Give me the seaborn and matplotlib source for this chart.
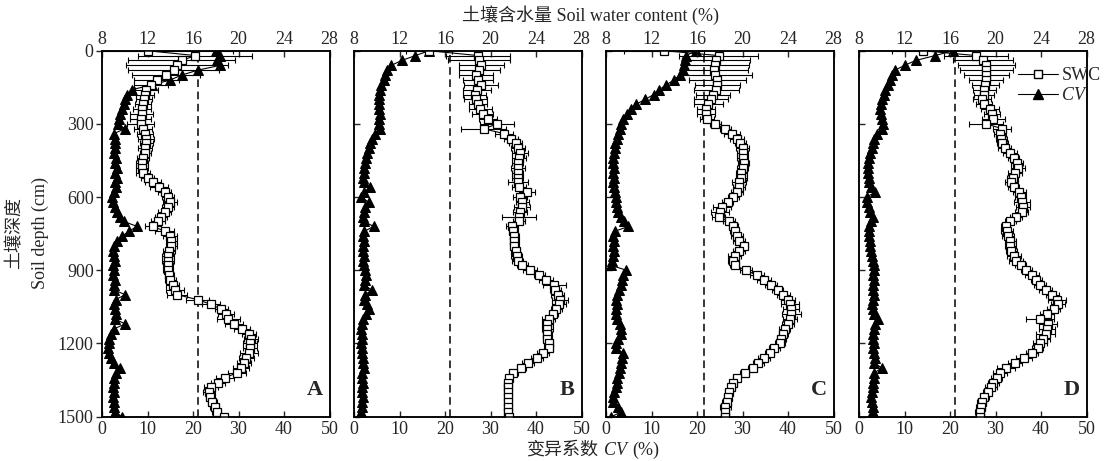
import matplotlib
matplotlib.use("Agg")
import pandas as pd
import matplotlib.pyplot as plt
import seaborn as sns
from matplotlib.lines import Line2D
from matplotlib.offsetbox import TextArea, HPacker, AnchoredOffsetbox

# depth of each sample (cm)
depth = list(range(0, 1501, 20))

# soil water content (%), top axis
swc_a = [12.0, 16.2, 15.0, 14.6, 14.3, 13.6, 12.8, 12.3, 11.9, 11.8,
         11.7, 11.6, 11.5, 11.5, 11.4, 11.4, 11.6, 11.8, 11.9, 11.9,
         11.8, 11.8, 11.6, 11.5, 11.5, 11.6, 12.0, 12.5, 13.0, 13.5,
         13.8, 14.0, 13.8, 13.5, 13.2, 12.9, 12.5, 13.5, 14.0, 14.1,
         14.1, 13.9, 13.8, 13.8, 13.8, 13.8, 13.9, 14.0, 14.2, 14.4,
         14.6, 16.4, 17.6, 18.5, 18.9, 19.1, 19.6, 20.3, 20.9, 21.1,
         21.0, 21.0, 20.9, 20.7, 20.5, 20.2, 19.9, 18.8, 18.2, 17.6,
         17.4, 17.5, 17.7, 17.9, 18.1, 18.7]
swc_b = [14.6, 18.9, 19.0, 19.2, 19.0, 18.7, 18.9, 19.2, 18.8, 18.6,
         18.7, 18.9, 19.1, 19.3, 19.8, 20.6, 19.4, 21.2, 21.8, 22.2,
         22.4, 22.6, 22.5, 22.4, 22.4, 22.4, 22.4, 22.4, 22.5, 23.2,
         22.6, 22.8, 22.8, 22.6, 22.5, 22.5, 21.9, 22.0, 22.1, 22.1,
         22.1, 22.2, 22.3, 22.4, 22.8, 23.5, 24.3, 24.9, 25.6, 25.7,
         25.9, 26.1, 26.0, 25.8, 25.5, 25.1, 25.0, 25.0, 25.0, 25.0,
         25.1, 25.1, 24.6, 24.1, 23.3, 22.7, 22.0, 21.6, 21.5, 21.5,
         21.5, 21.5, 21.5, 21.5, 21.5, 21.6]
swc_c = [13.1, 17.9, 17.7, 17.6, 17.5, 17.6, 17.8, 17.8, 17.7, 17.4,
         17.2, 17.0, 16.8, 16.8, 16.9, 17.6, 18.5, 19.1, 19.5, 19.8,
         20.0, 20.0, 20.0, 20.1, 20.0, 19.9, 19.9, 19.7, 19.7, 19.5,
         19.2, 18.7, 18.2, 18.0, 17.9, 18.8, 19.2, 19.3, 19.5, 19.7,
         20.1, 19.7, 19.3, 19.2, 19.3, 20.3, 21.3, 21.9, 22.5, 23.1,
         23.6, 24.0, 24.2, 24.3, 24.3, 24.2, 24.0, 23.7, 23.6, 23.4,
         23.3, 22.8, 22.4, 21.9, 21.4, 20.9, 20.2, 19.5, 19.2, 19.0,
         18.8, 18.7, 18.6, 18.5, 18.5, 18.5]
swc_d = [13.6, 18.3, 18.9, 19.2, 19.2, 19.2, 19.2, 19.1, 19.0, 19.0,
         18.8, 19.0, 19.5, 19.7, 19.8, 19.2, 20.6, 20.4, 20.5, 20.6,
         20.8, 21.3, 21.6, 21.9, 22.0, 21.7, 21.5, 21.4, 21.6, 22.1,
         22.2, 22.3, 22.4, 22.3, 21.8, 21.3, 20.9, 21.0, 21.1, 21.3,
         21.3, 21.4, 21.6, 21.8, 22.2, 22.7, 23.2, 23.6, 23.9, 24.4,
         25.0, 25.4, 25.5, 25.1, 24.5, 23.9, 24.6, 24.5, 24.4, 24.2,
         23.9, 23.7, 23.2, 22.5, 21.7, 20.9, 20.4, 20.1, 19.8, 19.6,
         19.3, 19.0, 18.8, 18.7, 18.6, 18.6]

# standard errors of SWC
err_a = [7.5, 5.0, 4.7, 4.5, 4.0, 3.0, 2.0, 1.5, 1.0, 0.8,
         0.7, 0.7, 0.8, 1.0, 0.9, 1.2, 0.8, 0.7, 0.7, 0.6,
         0.6, 0.5, 0.5, 0.5, 0.5, 0.6, 0.6, 0.7, 0.8, 0.6,
         0.5, 0.6, 0.5, 0.6, 0.5, 0.6, 0.7, 0.8, 0.6, 0.5,
         0.5, 0.5, 0.5, 0.5, 0.4, 0.4, 0.4, 0.5, 0.6, 0.8,
         0.9, 1.0, 0.8, 0.6, 0.7, 1.0, 0.8, 0.7, 0.6, 0.6,
         0.6, 0.6, 0.8, 0.7, 0.6, 0.7, 0.8, 0.8, 0.6, 0.6,
         0.5, 0.4, 0.4, 0.4, 0.4, 0.4]
err_b = [2.0, 2.8, 2.7, 2.0, 1.8, 1.5, 1.3, 1.5, 1.2, 1.0,
         1.0, 0.8, 1.0, 0.9, 0.8, 1.5, 2.0, 0.8, 0.6, 0.6,
         0.6, 0.7, 0.6, 0.5, 0.6, 0.5, 0.5, 0.9, 0.6, 0.7,
         0.6, 0.6, 0.7, 0.6, 1.5, 0.5, 0.5, 0.4, 0.4, 0.4,
         0.4, 0.4, 0.5, 0.5, 0.5, 0.6, 0.5, 0.6, 1.0, 0.5,
         0.6, 0.7, 0.6, 0.5, 0.4, 0.6, 0.5, 0.5, 0.4, 0.4,
         0.4, 0.4, 0.5, 0.5, 0.5, 0.4, 0.4, 0.3, 0.3, 0.3,
         0.3, 0.3, 0.3, 0.3, 0.3, 0.3]
err_c = [3.5, 3.5, 3.0, 3.0, 3.0, 3.2, 2.5, 2.0, 2.0, 1.5,
         1.5, 1.3, 0.8, 0.8, 0.6, 0.5, 0.5, 0.7, 0.6, 0.5,
         0.6, 0.5, 0.5, 0.5, 0.5, 0.5, 0.5, 0.6, 0.5, 0.5,
         0.5, 0.5, 0.8, 0.8, 0.6, 0.5, 0.4, 0.4, 0.5, 0.5,
         0.4, 0.5, 0.6, 0.5, 0.4, 0.5, 0.6, 0.6, 0.5, 0.5,
         0.6, 0.6, 0.8, 0.7, 0.8, 0.6, 0.5, 0.5, 0.4, 0.4,
         0.4, 0.5, 0.4, 0.5, 0.5, 0.4, 0.4, 0.3, 0.3, 0.3,
         0.3, 0.3, 0.4, 0.5, 0.3, 0.3]
err_d = [2.7, 2.8, 2.6, 2.5, 2.3, 2.0, 1.5, 1.2, 1.0, 0.9,
         0.8, 0.7, 0.8, 0.7, 1.0, 1.5, 0.8, 0.5, 0.5, 0.5,
         0.6, 0.6, 0.5, 0.5, 0.6, 0.6, 0.5, 0.6, 0.5, 0.6,
         0.5, 0.7, 0.6, 0.6, 0.5, 0.5, 0.4, 0.5, 0.5, 0.5,
         0.5, 0.5, 0.6, 0.6, 0.5, 0.5, 0.6, 0.5, 0.5, 0.6,
         0.6, 0.8, 0.6, 0.6, 0.6, 1.2, 0.8, 0.7, 0.8, 0.6,
         0.6, 0.5, 0.5, 0.7, 0.6, 0.8, 0.6, 0.5, 0.5, 0.5,
         0.4, 0.4, 0.4, 0.4, 0.4, 0.3]

# coefficient of variation (%), bottom axis
cv_a = [25.0, 26.0, 25.3, 26.0, 21.0, 17.5, 15.0, 11.0, 6.5, 5.5,
        5.0, 4.8, 4.4, 4.0, 3.8, 3.5, 5.0, 2.6, 2.8, 2.9,
        2.9, 2.7, 3.0, 2.8, 3.2, 2.9, 3.3, 2.8, 3.0, 2.6,
        2.2, 2.4, 2.9, 3.2, 4.0, 4.8, 7.7, 5.9, 4.4, 3.3,
        2.6, 2.4, 2.6, 2.8, 2.5, 2.7, 2.5, 2.8, 2.6, 2.6,
        5.1, 3.0, 2.6, 2.9, 3.0, 2.9, 5.1, 2.6, 2.0, 1.5,
        1.5, 1.4, 1.6, 2.0, 2.6, 4.0, 3.0, 2.6, 2.7, 2.5,
        2.6, 2.4, 2.6, 2.7, 2.8, 4.4]
cv_b = [16.5, 13.5, 10.5, 8.2, 7.3, 6.8, 6.5, 6.0, 5.7, 5.5,
        5.4, 5.5, 5.6, 5.7, 5.6, 5.5, 5.8, 4.6, 4.0, 3.6,
        3.2, 2.9, 2.6, 2.4, 2.2, 2.1, 2.0, 2.3, 3.5, 2.2,
        1.5, 3.2, 2.4, 2.1, 2.0, 2.2, 4.3, 2.3, 2.0, 2.1,
        1.9, 2.0, 2.1, 2.0, 2.2, 2.4, 2.7, 2.4, 2.2, 3.9,
        2.5, 2.3, 2.8, 3.3, 2.6, 2.0, 1.7, 1.6, 1.8, 1.7,
        1.6, 1.8, 1.7, 1.9, 2.0, 2.2, 1.8, 1.7, 1.9, 1.8,
        1.7, 1.9, 1.8, 1.7, 1.6, 1.8]
cv_c = [19.8, 17.6, 17.4, 17.2, 17.0, 16.2, 15.0, 13.2, 11.7, 10.5,
        8.5, 6.6, 5.5, 4.6, 3.8, 3.4, 3.0, 2.7, 2.4, 2.0,
        1.9, 1.7, 1.6, 1.6, 1.7, 1.6, 1.8, 1.6, 1.7, 1.9,
        2.3, 2.1, 2.5, 2.7, 3.2, 4.0, 4.9, 2.0, 1.6, 1.7,
        1.6, 1.8, 1.5, 1.4, 1.2, 4.5, 3.8, 3.6, 3.4, 2.8,
        2.4, 2.2, 2.4, 2.3, 2.1, 2.5, 3.0, 3.4, 3.2, 2.6,
        2.3, 2.2, 3.8, 3.5, 3.2, 3.0, 2.8, 2.5, 2.4, 2.2,
        1.8, 1.6, 1.5, 2.6, 3.4, 1.2]
cv_d = [20.7, 16.7, 12.5, 10.0, 7.9, 7.2, 6.8, 6.3, 5.8, 5.5,
        5.1, 4.8, 4.6, 4.8, 5.0, 5.2, 5.0, 4.0, 3.3, 3.0,
        2.8, 2.4, 2.1, 2.0, 1.9, 2.0, 2.1, 2.2, 2.6, 3.5,
        1.7, 1.8, 2.2, 2.4, 3.1, 2.6, 2.3, 2.2, 2.3, 2.4,
        2.5, 2.6, 2.8, 3.0, 3.2, 3.3, 3.1, 3.2, 3.0, 3.1,
        3.2, 3.1, 2.9, 3.0, 3.3, 4.2, 3.5, 3.2, 3.0, 3.1,
        3.2, 3.0, 3.3, 3.5, 3.4, 5.0, 3.4, 3.2, 3.1, 3.0,
        2.8, 2.6, 2.9, 3.0, 3.1, 2.4]

panel_labels = ["A", "B", "C", "D"]
ref_lines = [21.0, 21.2, 21.5, 21.2]

sns.set_style("ticks")
plt.rcParams["font.family"] = ["Liberation Serif", "Noto Sans CJK SC"]
plt.rcParams["font.size"] = 13
plt.rcParams["axes.linewidth"] = 1.1
plt.rcParams["axes.edgecolor"] = "black"

W, H = 1115, 461
fig = plt.figure(figsize=(W / 100, H / 100), dpi=100)
lefts = [102, 354, 606, 859]

swcs = [swc_a, swc_b, swc_c, swc_d]
errs = [err_a, err_b, err_c, err_d]
cvs = [cv_a, cv_b, cv_c, cv_d]

for i in range(4):
    df = pd.DataFrame({"depth": depth, "swc": swcs[i], "err": errs[i], "cv": cvs[i]})
    ax = fig.add_axes([lefts[i] / W, 1 - 416.7 / H, 227.5 / W, 366 / H])
    ax2 = ax.twiny()

    ax.axvline(ref_lines[i], color="black", lw=1.1, dashes=(5, 3))
    sns.lineplot(data=df, x="cv", y="depth", sort=False, estimator=None, ax=ax,
                 color="black", lw=0.8, marker="^", markersize=7,
                 markerfacecolor="black", markeredgecolor="black", legend=False)
    ax2.errorbar(df["swc"], df["depth"], xerr=df["err"], fmt="none", ecolor="black",
                 elinewidth=0.8, capsize=2.5, capthick=0.8)
    sns.lineplot(data=df, x="swc", y="depth", sort=False, estimator=None, ax=ax2,
                 color="black", lw=0.8, marker="s", markersize=6,
                 markerfacecolor="white", markeredgecolor="black",
                 markeredgewidth=0.9, legend=False)

    ax.set_xlim(0, 50)
    ax2.set_xlim(8, 28)
    ax.set_ylim(1500, 0)
    ax.set_xticks(range(0, 51, 10))
    ax2.set_xticks(range(8, 29, 4))
    ax.set_yticks(range(0, 1501, 300))
    ax.set_xlabel("")
    ax.set_ylabel("")
    ax2.set_xlabel("")
    ax2.set_ylabel("")

    ax.tick_params(axis="x", direction="in", length=4, width=1, pad=3, labelsize=13)
    ax2.tick_params(axis="x", direction="in", length=4, width=1, pad=2, labelsize=13)
    ax.tick_params(axis="y", direction="out" if i == 0 else "in", length=4, width=1,
                   pad=2, labelsize=13, labelleft=(i == 0))
    for a in (ax, ax2):
        for s in a.spines.values():
            s.set_visible(True)
            s.set_color("black")
            s.set_linewidth(1.1)

    ax2.text(0.935, 0.045, panel_labels[i], transform=ax.transAxes, fontsize=16,
             fontweight="bold", ha="center", va="bottom")

    if i == 3:
        h1 = Line2D([], [], color="black", lw=0.8, marker="s", markersize=6,
                    markerfacecolor="white", markeredgecolor="black")
        h2 = Line2D([], [], color="black", lw=0.8, marker="^", markersize=7,
                    markerfacecolor="black", markeredgecolor="black")
        leg = ax2.legend([h1, h2], ["SWC", "CV"], loc="upper left",
                         bbox_to_anchor=(0.70, 0.955), frameon=False, fontsize=13,
                         handlelength=2.2, handletextpad=0.2, borderaxespad=0,
                         borderpad=0, labelspacing=0.15)
        leg.get_texts()[1].set_style("italic")

fig.text(590 / W, 1 - 15 / H, "土壤含水量 Soil water content (%)", ha="center",
         va="center", fontsize=13)
fig.text(15 / W, 1 - 233 / H, "土壤深度", rotation=90, ha="center", va="center",
         fontsize=13)
fig.text(40 / W, 1 - 233 / H, "Soil depth (cm)", rotation=90, ha="center",
         va="center", fontsize=13)

parts = [TextArea("变异系数", textprops=dict(fontsize=13)),
         TextArea("CV", textprops=dict(fontsize=13, style="italic")),
         TextArea("(%)", textprops=dict(fontsize=13))]
box = HPacker(children=parts, align="baseline", pad=0, sep=4)
anch = AnchoredOffsetbox(loc="center", child=box, pad=0, borderpad=0, frameon=False,
                         bbox_to_anchor=(593 / W, 1 - 450 / H),
                         bbox_transform=fig.transFigure)
fig.add_artist(anch)

fig.savefig("out.png", dpi=100)
